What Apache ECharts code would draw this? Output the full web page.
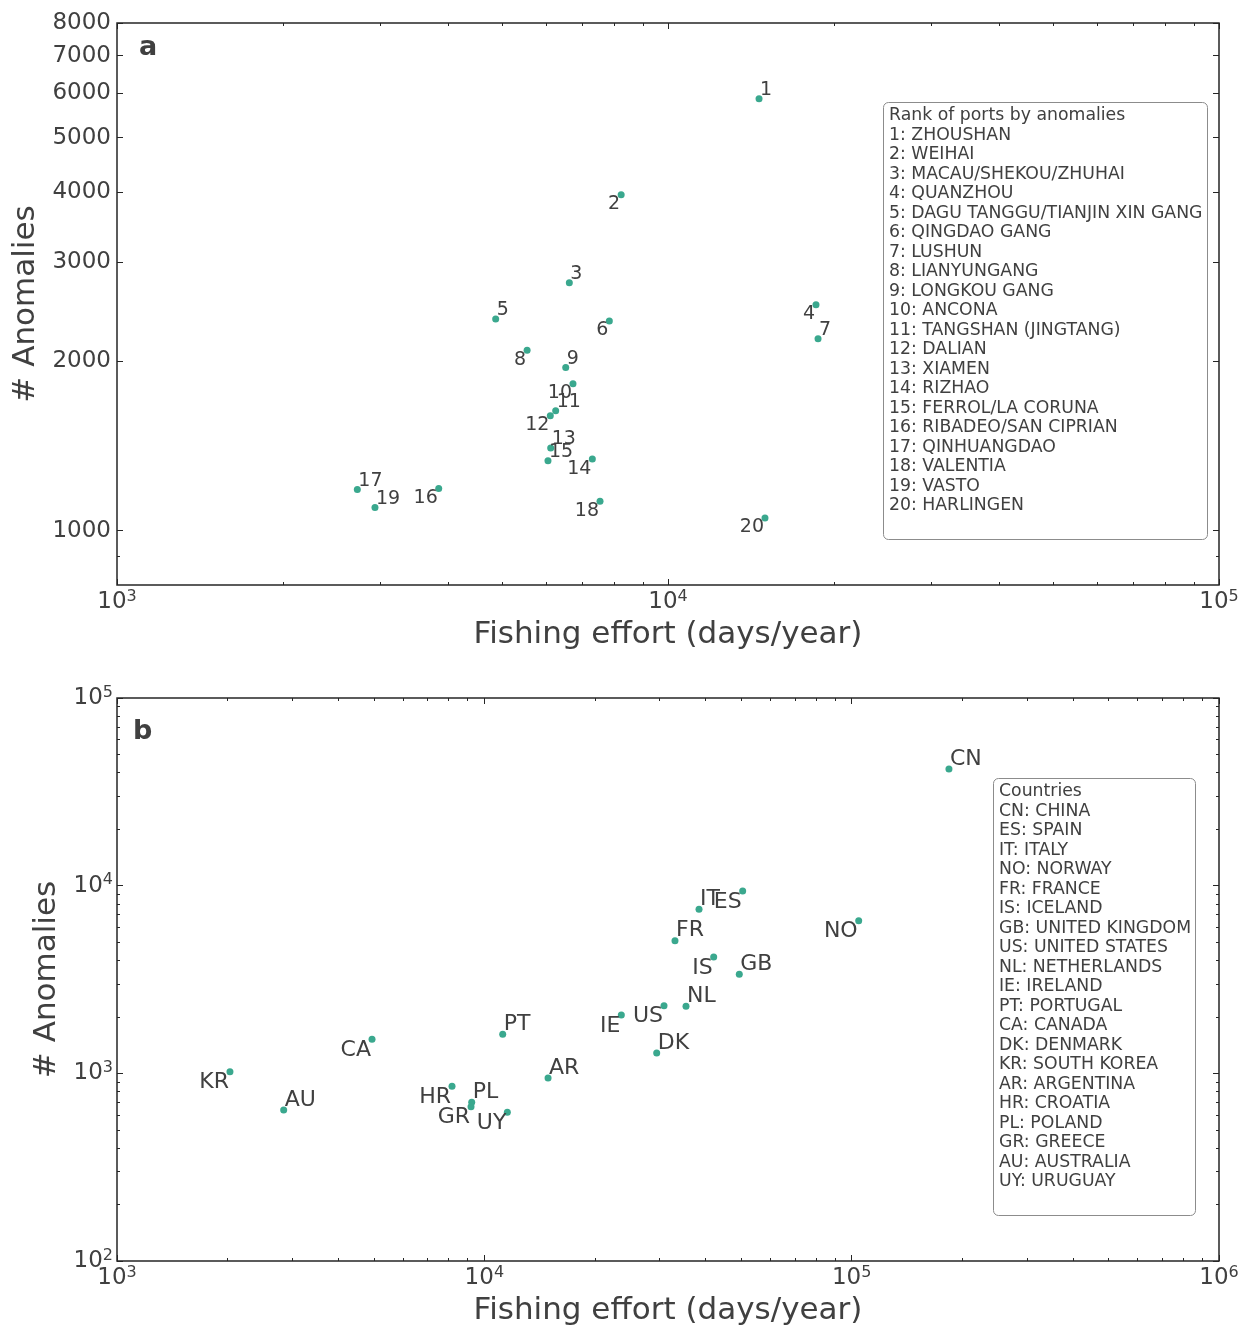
<!DOCTYPE html>
<html>
<head>
<meta charset="utf-8">
<script src="https://cdn.jsdelivr.net/npm/echarts@6/dist/echarts.min.js"></script>
<style>
html,body{margin:0;padding:0;background:#fff;}
#chart{width:1252px;height:1329px;}
</style>
</head>
<body>
<div id="chart"></div>
<script>
// panel a: top 20 ports
const portNames = ["ZHOUSHAN","WEIHAI","MACAU/SHEKOU/ZHUHAI","QUANZHOU","DAGU TANGGU/TIANJIN XIN GANG",
    "QINGDAO GANG","LUSHUN","LIANYUNGANG","LONGKOU GANG","ANCONA","TANGSHAN (JINGTANG)","DALIAN",
    "XIAMEN","RIZHAO","FERROL/LA CORUNA","RIBADEO/SAN CIPRIAN","QINHUANGDAO","VALENTIA","VASTO","HARLINGEN"];
const portEffort = [14630,8222,6621,18560,4867,7826,18720,5550,6522,6723,
    6254,6115,6125,7289,6056,3836,2730,7527,2939,14997];
const portAnomalies = [5866,3957,2759,2521,2380,2360,2193,2094,1950,1824,
    1633,1600,1403,1340,1331,1188,1183,1128,1099,1053];

// panel b: countries
const countryCodes = ["CN","ES","IT","NO","FR","IS","GB","US","NL","IE",
    "PT","CA","DK","KR","AR","HR","PL","GR","AU","UY"];
const countryNames = ["CHINA","SPAIN","ITALY","NORWAY","FRANCE","ICELAND","UNITED KINGDOM","UNITED STATES",
    "NETHERLANDS","IRELAND","PORTUGAL","CANADA","DENMARK","SOUTH KOREA","ARGENTINA","CROATIA",
    "POLAND","GREECE","AUSTRALIA","URUGUAY"];
const countryEffort = [184000,50500,38410,104500,33040,42110,49440,30840,35400,23600,
    11220,4946,29460,2030,14910,8166,9239,9199,2843,11550];
const countryAnomalies = [41840,9367,7482,6507,5089,4169,3371,2293,2276,2046,
    1614,1518,1283,1020,944,853,701,664,638,620];

// axis ranges and tick labels
const portXRange = [1e3, 1e5];
const portYRange = [800, 8000];
const portYTicks = [1000,2000,3000,4000,5000,6000,7000,8000];
const portYMinor = [900];
const countryXRange = [1e3, 1e6];
const countryYRange = [1e2, 1e5];

const font = "'DejaVu Sans', sans-serif";
const ink = "#404040";
const frame = "#262626";
const dotColor = "#3aa88e";

const lg = Math.log10;

function decades(lo, hi) {
    const out = [];
    for (let e = lg(lo); e <= lg(hi) + 1e-9; e++) out.push(e);
    return out;
}
function minorTicks(lo, hi) {
    const out = [];
    for (let e = Math.floor(lg(lo)); e < lg(hi); e++) {
        for (let m = 2; m <= 9; m++) {
            const v = lg(m) + e;
            if (v > lg(lo) + 1e-9 && v < lg(hi) - 1e-9) out.push(v);
        }
    }
    return out;
}

const powLabel = v => "{b|10}{s|" + Math.round(v) + "}";
const powRich = {
    b: {fontSize: 23, fontFamily: font, color: ink, lineHeight: 27},
    s: {fontSize: 16, fontFamily: font, color: ink, verticalAlign: "top", lineHeight: 16}
};
const titleStyle = {fontSize: 31, fontFamily: font, color: ink};

const xAxes = [], yAxes = [];

// decorative tick axis in exponent space
function tickAxis(list, grid, position, range, ticks, len, label, name) {
    const ax = {
        type: "value", gridIndex: grid, position: position,
        min: lg(range[0]), max: lg(range[1]),
        axisLine: {show: false},
        splitLine: {show: false},
        axisTick: {show: true, inside: true, length: len, customValues: ticks,
            lineStyle: {color: frame, width: 1}},
        axisLabel: {show: false}
    };
    if (label) ax.axisLabel = Object.assign({show: true, customValues: ticks}, label);
    if (name) Object.assign(ax, name);
    list.push(ax);
}

function panelAxes(grid, xr, yr, yMajor, yMinor, yLabel, xNameGap, yNameGap) {
    // data axes (log scale)
    const xi = xAxes.length, yi = yAxes.length;
    xAxes.push({type: "log", logBase: 10, gridIndex: grid, min: xr[0], max: xr[1], show: false});
    yAxes.push({type: "log", logBase: 10, gridIndex: grid, min: yr[0], max: yr[1], show: false});

    const xMajor = decades(xr[0], xr[1]);
    const xMinor = minorTicks(xr[0], xr[1]);
    tickAxis(xAxes, grid, "bottom", xr, xMajor, 6,
        {formatter: powLabel, rich: powRich, margin: 4},
        {name: "Fishing effort (days/year)", nameLocation: "middle", nameGap: xNameGap,
         nameTextStyle: titleStyle});
    tickAxis(xAxes, grid, "bottom", xr, xMinor, 3);
    tickAxis(xAxes, grid, "top", xr, xMajor, 6);
    tickAxis(xAxes, grid, "top", xr, xMinor, 3);

    tickAxis(yAxes, grid, "left", yr, yMajor, 6, yLabel,
        {name: "# Anomalies", nameLocation: "middle", nameGap: yNameGap,
         nameTextStyle: titleStyle});
    tickAxis(yAxes, grid, "left", yr, yMinor, 3);
    tickAxis(yAxes, grid, "right", yr, yMajor, 6);
    tickAxis(yAxes, grid, "right", yr, yMinor, 3);
    return [xi, yi];
}

const [ax0, ay0] = panelAxes(0, portXRange, portYRange,
    portYTicks.map(v => lg(v)), portYMinor.map(v => lg(v)),
    {formatter: v => String(Math.round(Math.pow(10, v))), fontSize: 23, fontFamily: font, color: ink, margin: 6},
    34, 74);
const [ax1, ay1] = panelAxes(1, countryXRange, countryYRange,
    decades(countryYRange[0], countryYRange[1]), minorTicks(countryYRange[0], countryYRange[1]),
    {formatter: powLabel, rich: powRich, margin: 4},
    34, 55);

// odd points: label up-right, even: label down-left
function pointLabel(i) {
    return i % 2 === 0
        ? {show: true, position: "inside", align: "left", verticalAlign: "bottom", offset: [1, 1]}
        : {show: true, position: "inside", align: "right", verticalAlign: "top", offset: [-1, 0]};
}

const portData = portEffort.map((x, i) => ({
    name: String(i + 1), value: [x, portAnomalies[i]], label: pointLabel(i)
}));
const countryData = countryEffort.map((x, i) => ({
    name: countryCodes[i], value: [x, countryAnomalies[i]], label: pointLabel(i)
}));

const legendA = ["Rank of ports by anomalies"].concat(portNames.map((n, i) => (i + 1) + ": " + n)).join("\n");
const legendB = ["Countries"].concat(countryCodes.map((c, i) => c + ": " + countryNames[i])).join("\n");

const boxStyle = {
    borderColor: "#8c8c8c", borderWidth: 1, borderRadius: 5, backgroundColor: "#fff",
    textStyle: {fontSize: 17.3, lineHeight: 19.5, fontWeight: "normal", fontFamily: font, color: ink}
};

const chart = echarts.init(document.getElementById("chart"));

chart.setOption({
    animation: false,
    backgroundColor: "#fff",
    textStyle: {fontFamily: font},
    title: [
        {text: "a", left: 139, top: 34, padding: 0,
         textStyle: {fontSize: 27, fontWeight: "bold", fontFamily: font, color: ink}},
        {text: "b", left: 133, top: 718, padding: 0,
         textStyle: {fontSize: 27, fontWeight: "bold", fontFamily: font, color: ink}},
        Object.assign({text: legendA, left: 883, top: 102, padding: [4, 5, 24, 6]}, boxStyle),
        Object.assign({text: legendB, left: 993, top: 778, padding: [4, 5, 24, 6]}, boxStyle)
    ],
    grid: [
        {left: 117, top: 23, width: 1102, height: 562, show: true,
         borderColor: frame, borderWidth: 1.5, backgroundColor: "transparent"},
        {left: 117, top: 698, width: 1102, height: 563, show: true,
         borderColor: frame, borderWidth: 1.5, backgroundColor: "transparent"}
    ],
    xAxis: xAxes,
    yAxis: yAxes,
    series: [
        {type: "scatter", xAxisIndex: ax0, yAxisIndex: ay0, data: portData,
         symbolSize: 7, itemStyle: {color: dotColor, opacity: 1},
         label: {formatter: "{b}", fontSize: 19, fontFamily: font, color: ink}},
        {type: "scatter", xAxisIndex: ax1, yAxisIndex: ay1, data: countryData,
         symbolSize: 7, itemStyle: {color: dotColor, opacity: 1},
         label: {formatter: "{b}", fontSize: 22, fontFamily: font, color: ink}}
    ]
});
</script>
</body>
</html>
